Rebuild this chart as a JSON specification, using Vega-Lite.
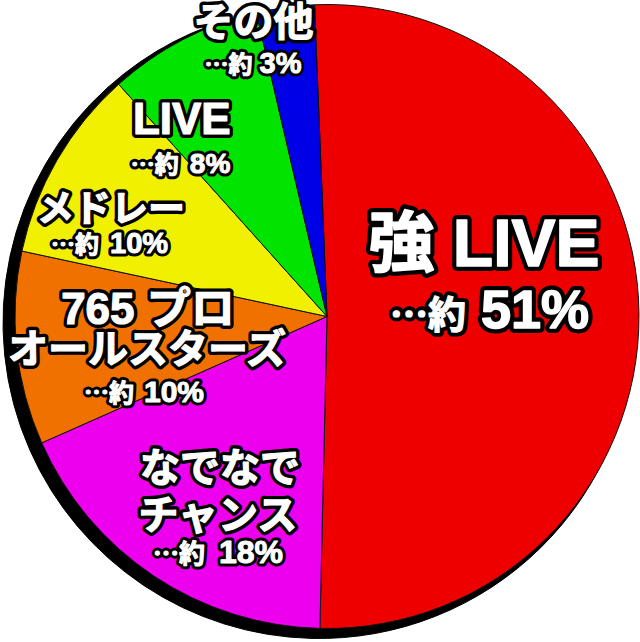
{
  "$schema": "https://vega.github.io/schema/vega-lite/v6.json",
  "width": 640,
  "height": 642,
  "autosize": {"type": "fit", "contains": "padding"},
  "padding": {"left": 8, "top": 0, "right": 0, "bottom": 6},
  "background": "white",
  "config": {"view": {"stroke": null}},
  "data": {
    "values": [
      {"cat": "強LIVE", "idx": 1, "v": 51, "line1": "強 LIVE", "line2": "", "pre": "⋯約", "num": "51%"},
      {"cat": "なでなでチャンス", "idx": 2, "v": 18, "line1": "なでなで", "line2": "チャンス", "pre": "⋯約", "num": "18%"},
      {"cat": "765プロオールスターズ", "idx": 3, "v": 10, "line1": "765 プロ", "line2": "オールスターズ", "pre": "⋯約", "num": "10%"},
      {"cat": "メドレー", "idx": 4, "v": 10, "line1": "メドレー", "line2": "", "pre": "⋯約", "num": "10%"},
      {"cat": "LIVE", "idx": 5, "v": 8, "line1": "LIVE", "line2": "", "pre": "⋯約", "num": "8%"},
      {"cat": "その他", "idx": 6, "v": 3, "line1": "その他", "line2": "", "pre": "⋯約", "num": "3%"}
    ]
  },
  "encoding": {
    "theta": {"field": "v", "type": "quantitative", "stack": true, "scale": {"range": [-0.0401, 6.2431]}},
    "order": {"field": "idx", "type": "quantitative"}
  },
  "layer": [
    {"mark": {"type": "arc", "radius": 316, "fill": "black", "stroke": "black", "strokeWidth": 1, "x": {"expr": "width/2 - 8"}, "y": {"expr": "height/2 + 6"}}},
    {"mark": {"type": "arc", "radius": 312, "stroke": "#111111", "strokeWidth": 1},
     "encoding": {"color": {"field": "cat", "type": "nominal", "legend": null,
       "scale": {"domain": ["強LIVE", "なでなでチャンス", "765プロオールスターズ", "メドレー", "LIVE", "その他"],
                 "range": ["#EE0000", "#EC00EE", "#F07000", "#F0F000", "#00E400", "#0000E6"]}}}},

    {"mark": {"type": "text", "radius": 157, "dx": 0, "dy": -69, "fontSize": 66, "font": "Liberation Sans, Noto Sans CJK JP", "fontWeight": "bold", "align": "center", "baseline": "middle", "fill": "black", "stroke": "black", "strokeWidth": 10, "strokeJoin": "round"},
     "encoding": {"text": {"condition": {"test": "datum.cat === '強LIVE'", "field": "line1"}, "value": ""}}},
    {"mark": {"type": "text", "radius": 157, "dx": 0, "dy": -69, "fontSize": 66, "font": "Liberation Sans, Noto Sans CJK JP", "fontWeight": "bold", "align": "center", "baseline": "middle", "fill": "white", "stroke": "white", "strokeWidth": 1.5, "strokeJoin": "round"},
     "encoding": {"text": {"condition": {"test": "datum.cat === '強LIVE'", "field": "line1"}, "value": ""}}},
    {"mark": {"type": "text", "radius": 157, "dx": -18, "dy": 13, "fontSize": 38, "font": "Noto Sans CJK JP", "fontWeight": "bold", "align": "right", "baseline": "alphabetic", "fill": "black", "stroke": "black", "strokeWidth": 9, "strokeJoin": "round"},
     "encoding": {"text": {"condition": {"test": "datum.cat === '強LIVE'", "field": "pre"}, "value": ""}}},
    {"mark": {"type": "text", "radius": 157, "dx": -18, "dy": 13, "fontSize": 38, "font": "Noto Sans CJK JP", "fontWeight": "bold", "align": "right", "baseline": "alphabetic", "fill": "white", "stroke": "white", "strokeWidth": 1.2, "strokeJoin": "round"},
     "encoding": {"text": {"condition": {"test": "datum.cat === '強LIVE'", "field": "pre"}, "value": ""}}},
    {"mark": {"type": "text", "radius": 157, "dx": -3, "dy": 13, "fontSize": 54, "font": "Liberation Sans, Noto Sans CJK JP", "fontWeight": "bold", "align": "left", "baseline": "alphabetic", "fill": "black", "stroke": "black", "strokeWidth": 10, "strokeJoin": "round"},
     "encoding": {"text": {"condition": {"test": "datum.cat === '強LIVE'", "field": "num"}, "value": ""}}},
    {"mark": {"type": "text", "radius": 157, "dx": -3, "dy": 13, "fontSize": 54, "font": "Liberation Sans, Noto Sans CJK JP", "fontWeight": "bold", "align": "left", "baseline": "alphabetic", "fill": "white", "stroke": "white", "strokeWidth": 1.5, "strokeJoin": "round"},
     "encoding": {"text": {"condition": {"test": "datum.cat === '強LIVE'", "field": "num"}, "value": ""}}},

    {"mark": {"type": "text", "radius": 220, "dx": 15, "dy": -30, "fontSize": 40, "font": "Liberation Sans, Noto Sans CJK JP", "fontWeight": "bold", "align": "center", "baseline": "middle", "fill": "black", "stroke": "black", "strokeWidth": 8, "strokeJoin": "round"},
     "encoding": {"text": {"condition": {"test": "datum.cat === 'なでなでチャンス'", "field": "line1"}, "value": ""}}},
    {"mark": {"type": "text", "radius": 220, "dx": 15, "dy": -30, "fontSize": 40, "font": "Liberation Sans, Noto Sans CJK JP", "fontWeight": "bold", "align": "center", "baseline": "middle", "fill": "white", "stroke": "white", "strokeWidth": 1.2, "strokeJoin": "round"},
     "encoding": {"text": {"condition": {"test": "datum.cat === 'なでなでチャンス'", "field": "line1"}, "value": ""}}},
    {"mark": {"type": "text", "radius": 220, "dx": 13, "dy": 17, "fontSize": 40, "font": "Liberation Sans, Noto Sans CJK JP", "fontWeight": "bold", "align": "center", "baseline": "middle", "fill": "black", "stroke": "black", "strokeWidth": 8, "strokeJoin": "round"},
     "encoding": {"text": {"condition": {"test": "datum.cat === 'なでなでチャンス'", "field": "line2"}, "value": ""}}},
    {"mark": {"type": "text", "radius": 220, "dx": 13, "dy": 17, "fontSize": 40, "font": "Liberation Sans, Noto Sans CJK JP", "fontWeight": "bold", "align": "center", "baseline": "middle", "fill": "white", "stroke": "white", "strokeWidth": 1.2, "strokeJoin": "round"},
     "encoding": {"text": {"condition": {"test": "datum.cat === 'なでなでチャンス'", "field": "line2"}, "value": ""}}},
    {"mark": {"type": "text", "radius": 220, "dx": 0, "dy": 63, "fontSize": 26, "font": "Noto Sans CJK JP", "fontWeight": "bold", "align": "right", "baseline": "alphabetic", "fill": "black", "stroke": "black", "strokeWidth": 7, "strokeJoin": "round"},
     "encoding": {"text": {"condition": {"test": "datum.cat === 'なでなでチャンス'", "field": "pre"}, "value": ""}}},
    {"mark": {"type": "text", "radius": 220, "dx": 0, "dy": 63, "fontSize": 26, "font": "Noto Sans CJK JP", "fontWeight": "bold", "align": "right", "baseline": "alphabetic", "fill": "white", "stroke": "white", "strokeWidth": 1, "strokeJoin": "round"},
     "encoding": {"text": {"condition": {"test": "datum.cat === 'なでなでチャンス'", "field": "pre"}, "value": ""}}},
    {"mark": {"type": "text", "radius": 220, "dx": 14, "dy": 63, "fontSize": 32, "font": "Liberation Sans, Noto Sans CJK JP", "fontWeight": "bold", "align": "left", "baseline": "alphabetic", "fill": "black", "stroke": "black", "strokeWidth": 7, "strokeJoin": "round"},
     "encoding": {"text": {"condition": {"test": "datum.cat === 'なでなでチャンス'", "field": "num"}, "value": ""}}},
    {"mark": {"type": "text", "radius": 220, "dx": 14, "dy": 63, "fontSize": 32, "font": "Liberation Sans, Noto Sans CJK JP", "fontWeight": "bold", "align": "left", "baseline": "alphabetic", "fill": "white", "stroke": "white", "strokeWidth": 1, "strokeJoin": "round"},
     "encoding": {"text": {"condition": {"test": "datum.cat === 'なでなでチャンス'", "field": "num"}, "value": ""}}},

    {"mark": {"type": "text", "radius": 180, "dx": 0, "dy": -24, "fontSize": 44, "font": "Liberation Sans, Noto Sans CJK JP", "fontWeight": "bold", "align": "center", "baseline": "middle", "fill": "black", "stroke": "black", "strokeWidth": 8, "strokeJoin": "round"},
     "encoding": {"text": {"condition": {"test": "datum.cat === '765プロオールスターズ'", "field": "line1"}, "value": ""}}},
    {"mark": {"type": "text", "radius": 180, "dx": 0, "dy": -24, "fontSize": 44, "font": "Liberation Sans, Noto Sans CJK JP", "fontWeight": "bold", "align": "center", "baseline": "middle", "fill": "white", "stroke": "white", "strokeWidth": 1.2, "strokeJoin": "round"},
     "encoding": {"text": {"condition": {"test": "datum.cat === '765プロオールスターズ'", "field": "line1"}, "value": ""}}},
    {"mark": {"type": "text", "radius": 180, "dx": -1, "dy": 16, "fontSize": 40, "font": "Liberation Sans, Noto Sans CJK JP", "fontWeight": "bold", "align": "center", "baseline": "middle", "fill": "black", "stroke": "black", "strokeWidth": 8, "strokeJoin": "round"},
     "encoding": {"text": {"condition": {"test": "datum.cat === '765プロオールスターズ'", "field": "line2"}, "value": ""}}},
    {"mark": {"type": "text", "radius": 180, "dx": -1, "dy": 16, "fontSize": 40, "font": "Liberation Sans, Noto Sans CJK JP", "fontWeight": "bold", "align": "center", "baseline": "middle", "fill": "white", "stroke": "white", "strokeWidth": 1.2, "strokeJoin": "round"},
     "encoding": {"text": {"condition": {"test": "datum.cat === '765プロオールスターズ'", "field": "line2"}, "value": ""}}},
    {"mark": {"type": "text", "radius": 180, "dx": -14, "dy": 67, "fontSize": 25, "font": "Noto Sans CJK JP", "fontWeight": "bold", "align": "right", "baseline": "alphabetic", "fill": "black", "stroke": "black", "strokeWidth": 7, "strokeJoin": "round"},
     "encoding": {"text": {"condition": {"test": "datum.cat === '765プロオールスターズ'", "field": "pre"}, "value": ""}}},
    {"mark": {"type": "text", "radius": 180, "dx": -14, "dy": 67, "fontSize": 25, "font": "Noto Sans CJK JP", "fontWeight": "bold", "align": "right", "baseline": "alphabetic", "fill": "white", "stroke": "white", "strokeWidth": 1, "strokeJoin": "round"},
     "encoding": {"text": {"condition": {"test": "datum.cat === '765プロオールスターズ'", "field": "pre"}, "value": ""}}},
    {"mark": {"type": "text", "radius": 180, "dx": -4, "dy": 67, "fontSize": 30, "font": "Liberation Sans, Noto Sans CJK JP", "fontWeight": "bold", "align": "left", "baseline": "alphabetic", "fill": "black", "stroke": "black", "strokeWidth": 7, "strokeJoin": "round"},
     "encoding": {"text": {"condition": {"test": "datum.cat === '765プロオールスターズ'", "field": "num"}, "value": ""}}},
    {"mark": {"type": "text", "radius": 180, "dx": -4, "dy": 67, "fontSize": 30, "font": "Liberation Sans, Noto Sans CJK JP", "fontWeight": "bold", "align": "left", "baseline": "alphabetic", "fill": "white", "stroke": "white", "strokeWidth": 1, "strokeJoin": "round"},
     "encoding": {"text": {"condition": {"test": "datum.cat === '765プロオールスターズ'", "field": "num"}, "value": ""}}},

    {"mark": {"type": "text", "radius": 230, "dx": -17, "dy": 10, "fontSize": 37, "font": "Liberation Sans, Noto Sans CJK JP", "fontWeight": "bold", "align": "center", "baseline": "middle", "fill": "black", "stroke": "black", "strokeWidth": 8, "strokeJoin": "round"},
     "encoding": {"text": {"condition": {"test": "datum.cat === 'メドレー'", "field": "line1"}, "value": ""}}},
    {"mark": {"type": "text", "radius": 230, "dx": -17, "dy": 10, "fontSize": 37, "font": "Liberation Sans, Noto Sans CJK JP", "fontWeight": "bold", "align": "center", "baseline": "middle", "fill": "white", "stroke": "white", "strokeWidth": 1.2, "strokeJoin": "round"},
     "encoding": {"text": {"condition": {"test": "datum.cat === 'メドレー'", "field": "line1"}, "value": ""}}},
    {"mark": {"type": "text", "radius": 230, "dx": -29, "dy": 52, "fontSize": 24, "font": "Noto Sans CJK JP", "fontWeight": "bold", "align": "right", "baseline": "alphabetic", "fill": "black", "stroke": "black", "strokeWidth": 7, "strokeJoin": "round"},
     "encoding": {"text": {"condition": {"test": "datum.cat === 'メドレー'", "field": "pre"}, "value": ""}}},
    {"mark": {"type": "text", "radius": 230, "dx": -29, "dy": 52, "fontSize": 24, "font": "Noto Sans CJK JP", "fontWeight": "bold", "align": "right", "baseline": "alphabetic", "fill": "white", "stroke": "white", "strokeWidth": 1, "strokeJoin": "round"},
     "encoding": {"text": {"condition": {"test": "datum.cat === 'メドレー'", "field": "pre"}, "value": ""}}},
    {"mark": {"type": "text", "radius": 230, "dx": -18, "dy": 52, "fontSize": 29, "font": "Liberation Sans, Noto Sans CJK JP", "fontWeight": "bold", "align": "left", "baseline": "alphabetic", "fill": "black", "stroke": "black", "strokeWidth": 7, "strokeJoin": "round"},
     "encoding": {"text": {"condition": {"test": "datum.cat === 'メドレー'", "field": "num"}, "value": ""}}},
    {"mark": {"type": "text", "radius": 230, "dx": -18, "dy": 52, "fontSize": 29, "font": "Liberation Sans, Noto Sans CJK JP", "fontWeight": "bold", "align": "left", "baseline": "alphabetic", "fill": "white", "stroke": "white", "strokeWidth": 1, "strokeJoin": "round"},
     "encoding": {"text": {"condition": {"test": "datum.cat === 'メドレー'", "field": "num"}, "value": ""}}},

    {"mark": {"type": "text", "radius": 230, "dx": -39, "dy": 9, "fontSize": 44, "font": "Liberation Sans, Noto Sans CJK JP", "fontWeight": "bold", "align": "center", "baseline": "middle", "fill": "black", "stroke": "black", "strokeWidth": 8, "strokeJoin": "round"},
     "encoding": {"text": {"condition": {"test": "datum.cat === 'LIVE'", "field": "line1"}, "value": ""}}},
    {"mark": {"type": "text", "radius": 230, "dx": -39, "dy": 9, "fontSize": 44, "font": "Liberation Sans, Noto Sans CJK JP", "fontWeight": "bold", "align": "center", "baseline": "middle", "fill": "white", "stroke": "white", "strokeWidth": 1.2, "strokeJoin": "round"},
     "encoding": {"text": {"condition": {"test": "datum.cat === 'LIVE'", "field": "line1"}, "value": ""}}},
    {"mark": {"type": "text", "radius": 230, "dx": -42, "dy": 61, "fontSize": 24, "font": "Noto Sans CJK JP", "fontWeight": "bold", "align": "right", "baseline": "alphabetic", "fill": "black", "stroke": "black", "strokeWidth": 7, "strokeJoin": "round"},
     "encoding": {"text": {"condition": {"test": "datum.cat === 'LIVE'", "field": "pre"}, "value": ""}}},
    {"mark": {"type": "text", "radius": 230, "dx": -42, "dy": 61, "fontSize": 24, "font": "Noto Sans CJK JP", "fontWeight": "bold", "align": "right", "baseline": "alphabetic", "fill": "white", "stroke": "white", "strokeWidth": 1, "strokeJoin": "round"},
     "encoding": {"text": {"condition": {"test": "datum.cat === 'LIVE'", "field": "pre"}, "value": ""}}},
    {"mark": {"type": "text", "radius": 230, "dx": -31, "dy": 61, "fontSize": 28, "font": "Liberation Sans, Noto Sans CJK JP", "fontWeight": "bold", "align": "left", "baseline": "alphabetic", "fill": "black", "stroke": "black", "strokeWidth": 7, "strokeJoin": "round"},
     "encoding": {"text": {"condition": {"test": "datum.cat === 'LIVE'", "field": "num"}, "value": ""}}},
    {"mark": {"type": "text", "radius": 230, "dx": -31, "dy": 61, "fontSize": 28, "font": "Liberation Sans, Noto Sans CJK JP", "fontWeight": "bold", "align": "left", "baseline": "alphabetic", "fill": "white", "stroke": "white", "strokeWidth": 1, "strokeJoin": "round"},
     "encoding": {"text": {"condition": {"test": "datum.cat === 'LIVE'", "field": "num"}, "value": ""}}},

    {"mark": {"type": "text", "radius": 280, "dx": -36, "dy": -15, "fontSize": 40, "font": "Liberation Sans, Noto Sans CJK JP", "fontWeight": "bold", "align": "center", "baseline": "middle", "fill": "black", "stroke": "black", "strokeWidth": 8, "strokeJoin": "round"},
     "encoding": {"text": {"condition": {"test": "datum.cat === 'その他'", "field": "line1"}, "value": ""}}},
    {"mark": {"type": "text", "radius": 280, "dx": -36, "dy": -15, "fontSize": 40, "font": "Liberation Sans, Noto Sans CJK JP", "fontWeight": "bold", "align": "center", "baseline": "middle", "fill": "white", "stroke": "white", "strokeWidth": 1.2, "strokeJoin": "round"},
     "encoding": {"text": {"condition": {"test": "datum.cat === 'その他'", "field": "line1"}, "value": ""}}},
    {"mark": {"type": "text", "radius": 280, "dx": -37, "dy": 34, "fontSize": 24, "font": "Noto Sans CJK JP", "fontWeight": "bold", "align": "right", "baseline": "alphabetic", "fill": "black", "stroke": "black", "strokeWidth": 7, "strokeJoin": "round"},
     "encoding": {"text": {"condition": {"test": "datum.cat === 'その他'", "field": "pre"}, "value": ""}}},
    {"mark": {"type": "text", "radius": 280, "dx": -37, "dy": 34, "fontSize": 24, "font": "Noto Sans CJK JP", "fontWeight": "bold", "align": "right", "baseline": "alphabetic", "fill": "white", "stroke": "white", "strokeWidth": 1, "strokeJoin": "round"},
     "encoding": {"text": {"condition": {"test": "datum.cat === 'その他'", "field": "pre"}, "value": ""}}},
    {"mark": {"type": "text", "radius": 280, "dx": -30, "dy": 34, "fontSize": 29, "font": "Liberation Sans, Noto Sans CJK JP", "fontWeight": "bold", "align": "left", "baseline": "alphabetic", "fill": "black", "stroke": "black", "strokeWidth": 7, "strokeJoin": "round"},
     "encoding": {"text": {"condition": {"test": "datum.cat === 'その他'", "field": "num"}, "value": ""}}},
    {"mark": {"type": "text", "radius": 280, "dx": -30, "dy": 34, "fontSize": 29, "font": "Liberation Sans, Noto Sans CJK JP", "fontWeight": "bold", "align": "left", "baseline": "alphabetic", "fill": "white", "stroke": "white", "strokeWidth": 1, "strokeJoin": "round"},
     "encoding": {"text": {"condition": {"test": "datum.cat === 'その他'", "field": "num"}, "value": ""}}}
  ]
}
